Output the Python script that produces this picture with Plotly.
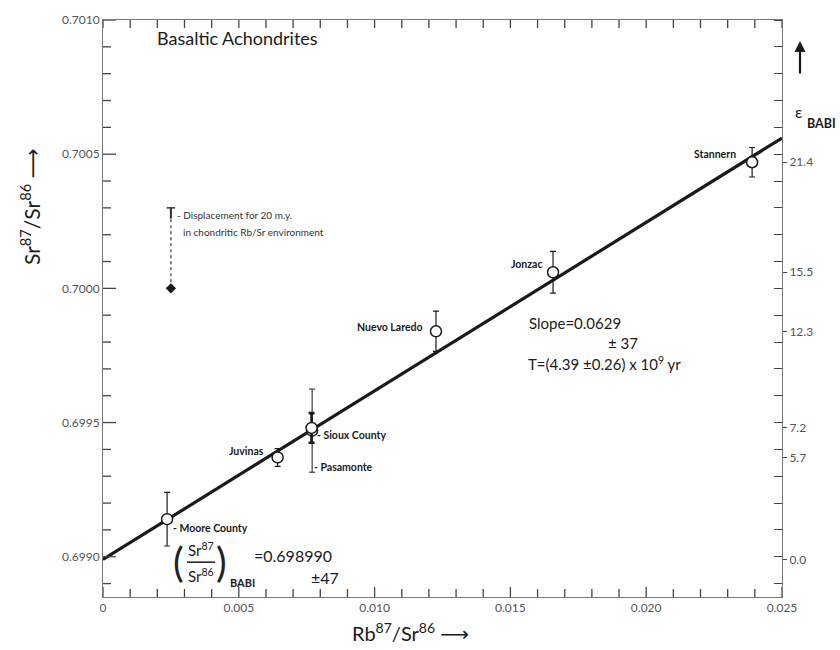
import plotly.graph_objects as go

# ---------------- data ----------------
names = ["Moore County", "Juvinas", "Sioux County", "Pasamonte",
         "Nuevo Laredo", "Jonzac", "Stannern"]
rb_sr = [0.00236, 0.00643, 0.00768, 0.00770, 0.01226, 0.01657, 0.02390]
sr_sr = [0.69914, 0.69937, 0.69948, 0.69947, 0.69984, 0.70006, 0.70047]
sr_err = [0.000100, 0.000033, 0.000055, 0.000155, 0.000075, 0.000078, 0.000055]

# isochron line end points
line_x = [0.0, 0.025]
line_y = [0.69899, 0.70056]

# displacement marker (20 m.y. in chondritic Rb/Sr environment)
disp_x = [0.0025]
disp_y = [0.70000]
disp_top = [0.70030]

# axis ticks
x_tickvals = [0, 0.005, 0.010, 0.015, 0.020, 0.025]
x_ticktext = ["0", "0.005", "0.010", "0.015", "0.020", "0.025"]
y_tickvals = [0.6990, 0.6995, 0.7000, 0.7005, 0.7010]
y_ticktext = ["0.6990", "0.6995", "0.7000", "0.7005", "0.7010"]
eps_vals = [0.70047, 0.70006, 0.69984, 0.69948, 0.69937, 0.69899]
eps_text = ["21.4", "15.5", "12.3", "7.2", "5.7", "0.0"]
x_minor = [k / 1000 for k in range(0, 26)]
y_minor = [round(0.6989 + k / 10000, 4) for k in range(0, 22)]

# ---------------- layout geometry ----------------
W, H = 840, 650
L, R, T, B = 103, 782, 17, 597
XR = [0.0, 0.025]
YR = [0.69885, 0.7010]


def P(px, py):
    return (px - L) / (R - L), (B - py) / (B - T)


FONT = "Lato, 'DejaVu Sans', sans-serif"
INK = "#1a1a1a"
TICK = "#444"

fig = go.Figure()

# isochron
fig.add_trace(go.Scatter(x=line_x, y=line_y, mode="lines",
                         line=dict(color=INK, width=3.2), hoverinfo="skip",
                         showlegend=False))

# meteorites: error bars + open circles
thick = [1.2, 1.2, 2.6, 1.0, 1.2, 1.2, 1.2]
for i in [3, 0, 1, 2, 4, 5, 6]:
    fig.add_trace(go.Scatter(
        x=[rb_sr[i]], y=[sr_sr[i]], mode="markers", name=names[i],
        marker=dict(symbol="circle", size=11, color="white",
                    line=dict(color=INK, width=1.5)),
        error_y=dict(type="data", array=[sr_err[i]], color=INK,
                     thickness=thick[i], width=3),
        showlegend=False))

# displacement marker
fig.add_trace(go.Scatter(x=[disp_x[0], disp_x[0]], y=[disp_y[0], disp_top[0]],
                         mode="lines", line=dict(color="#333", width=1.2, dash="dot"),
                         showlegend=False, hoverinfo="skip"))
fig.add_trace(go.Scatter(x=[disp_x[0], disp_x[0]],
                         y=[disp_top[0] - 0.00004, disp_top[0]],
                         mode="lines", line=dict(color="#333", width=2),
                         showlegend=False, hoverinfo="skip"))
fig.add_trace(go.Scatter(x=disp_x, y=disp_top, mode="markers",
                         marker=dict(symbol="line-ew", size=6,
                                     line=dict(color="#333", width=1.5)),
                         showlegend=False, hoverinfo="skip"))
fig.add_trace(go.Scatter(x=disp_x, y=disp_y, mode="markers",
                         marker=dict(symbol="diamond", size=8, color=INK),
                         showlegend=False, hoverinfo="skip"))

# helper trace for the epsilon axis
fig.add_trace(go.Scatter(x=[None], y=[None], yaxis="y2", showlegend=False))

tickfont = dict(family=FONT, size=12, color="#555")
frame = dict(showgrid=False, zeroline=False, showline=True,
             linecolor="#777", linewidth=1)

fig.update_layout(
    width=W, height=H,
    margin=dict(l=L, r=W - R, t=T, b=H - B),
    paper_bgcolor="white", plot_bgcolor="white",
    showlegend=False,
    xaxis=dict(range=XR, tickmode="array", tickvals=x_tickvals,
               ticktext=x_ticktext, ticks="", tickfont=tickfont,
               mirror=True, **frame),
    yaxis=dict(range=YR, tickmode="array", tickvals=y_tickvals,
               ticktext=y_ticktext, ticks="", tickfont=tickfont,
               mirror=True, **frame),
    yaxis2=dict(range=YR, overlaying="y", side="right", anchor="x",
                tickmode="array", tickvals=eps_vals, ticktext=eps_text,
                ticks="outside", ticklen=4, tickcolor=TICK, tickfont=tickfont,
                minor=dict(tickmode="linear", dtick=0.0001, tick0=0.699,
                           ticks="inside", ticklen=8, tickcolor=TICK,
                           tickwidth=1.3),
                **frame),
)

# inward tick marks on bottom, top and left edges
tick_line = dict(color=TICK, width=1.3)
for xv in x_minor:
    major = any(abs(xv - t) < 1e-9 for t in x_tickvals)
    hb = (10 if major else 8) / (B - T)
    ht = 8 / (B - T)
    fig.add_shape(type="line", xref="x", yref="paper", x0=xv, x1=xv,
                  y0=0, y1=hb, line=tick_line)
    fig.add_shape(type="line", xref="x", yref="paper", x0=xv, x1=xv,
                  y0=1, y1=1 - ht, line=tick_line)
for yv in y_minor:
    if yv < YR[0] or yv > YR[1]:
        continue
    major = any(abs(yv - t) < 1e-9 for t in y_tickvals)
    wl = (13 if major else 8) / (R - L)
    fig.add_shape(type="line", xref="paper", yref="y", x0=0, x1=wl,
                  y0=yv, y1=yv, line=tick_line)


def add_text(px, py, text, size=11, anchor="left", bold=False, color=INK,
             angle=0):
    x, y = P(px, py)
    if bold:
        text = "<b>" + text + "</b>"
    fig.add_annotation(x=x, y=y, xref="paper", yref="paper", text=text,
                       showarrow=False, xanchor=anchor, yanchor="middle",
                       textangle=angle,
                       font=dict(family=FONT, size=size, color=color))


# title
add_text(155, 35, "Basaltic Achondrites", size=18)

# meteorite labels
add_text(738, 152, "Stannern", 10.5, "right", True)
add_text(545, 262, "Jonzac", 10.5, "right", True)
add_text(425, 326, "Nuevo Laredo", 10.5, "right", True)
add_text(266, 450, "Juvinas", 10.5, "right", True)
add_text(315, 434, "- Sioux County", 10.5, "left", True)
add_text(312, 466, "- Pasamonte", 10.5, "left", True)
add_text(171, 528, "- Moore County", 10.5, "left", True)

# slope / age
add_text(527, 322, "Slope=0.0629", 15)
add_text(606, 342, "± 37", 15)
add_text(526, 362, "T=(4.39 ±0.26) x 10<sup>9</sup> yr", 15)

# displacement note
add_text(175, 213, "- Displacement for 20 m.y.", 10, color="#333")
add_text(181, 230, "in chondritic Rb/Sr environment", 10, color="#333")

# initial ratio
add_text(178, 562, "(", 40, "center", color="#222")
add_text(221, 562, ")", 40, "center", color="#222")
add_text(201, 549, "Sr<sup>87</sup>", 15, "center")
add_text(201, 575, "Sr<sup>86</sup>", 15, "center")
x0, y0 = P(187, 562)
x1, _ = P(215, 562)
fig.add_shape(type="line", xref="paper", yref="paper", x0=x0, x1=x1,
              y0=y0, y1=y0, line=dict(color=INK, width=1.5))
add_text(228, 582, "BABI", 11, "left", True)
add_text(252, 555, "=0.698990", 16)
add_text(341, 577, "±47", 16, "right")

# epsilon label and arrow
ax1, ay1 = P(800, 38)
fig.add_annotation(x=ax1, y=ay1, ax=0, ay=34, xref="paper", yref="paper",
                   axref="pixel", ayref="pixel", text="", showarrow=True,
                   arrowhead=2, arrowsize=1, arrowwidth=2.2, arrowcolor=INK)
add_text(793, 109, "ε", 16, "left")
add_text(805, 121, "BABI", 12.5, "left", True)

# axis titles
add_text(30, 205, "Sr<sup>87</sup>/Sr<sup>86</sup> ⟶", 21, "center", angle=-90)
add_text(410, 632, "Rb<sup>87</sup>/Sr<sup>86</sup> ⟶", 20, "center")

fig.write_html("out.html")
